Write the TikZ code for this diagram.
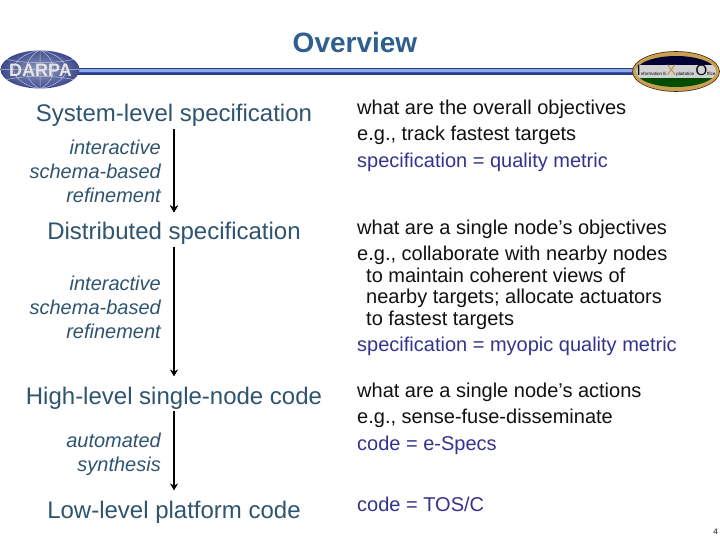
\documentclass[tikz,border=0pt]{standalone}
\usepackage{fontspec}
\setmainfont{Liberation Sans}
\usetikzlibrary{arrows.meta}
\definecolor{titlec}{HTML}{2F5F8F}
\definecolor{leftc}{HTML}{2F5470}
\definecolor{bodyc}{HTML}{111111}
\definecolor{metric}{HTML}{33338F}
\definecolor{barc}{HTML}{3A55B8}
\definecolor{barl}{HTML}{8FA8E8}
\definecolor{darpa}{HTML}{3C4A8C}
\definecolor{gold}{HTML}{C8A050}
\newcommand{\ixosmall}{\fontsize{4.5}{4.5}\selectfont}
\newcommand{\ixobig}{\fontsize{15}{15}\selectfont}
\tikzset{
  stage/.style={anchor=base,text=leftc,font=\fontsize{24}{24}\selectfont,inner sep=0pt},
  how/.style={anchor=north east,align=right,text=leftc,font=\fontsize{20}{24}\selectfont\itshape,inner sep=0pt},
  desc/.style={anchor=base west,text=bodyc,font=\fontsize{20}{24}\selectfont,inner sep=0pt},
  metr/.style={anchor=base west,text=metric,font=\fontsize{20}{24}\selectfont,inner sep=0pt},
  flow/.style={draw=black,line width=2pt,-{Stealth[length=7pt,width=8pt]}},
}
\begin{document}
\begin{tikzpicture}[x=1pt,y=-1pt]
\useasboundingbox (0,0) rectangle (720,540);
\fill[white] (0,0) rectangle (720,540);
\node[anchor=base,text=titlec,font=\fontsize{28}{28}\selectfont\bfseries,inner sep=0pt] (title) at (355,52.5) {Overview};
% header rule
\fill[barc!70!black] (70,68) rectangle (640,75);
\fill[barl] (70,69.5) rectangle (640,72);
\fill[barc] (70,72) rectangle (640,73.5);
% DARPA
\begin{scope}
\clip (40,69.5) ellipse [x radius=39.5,y radius=19];
\shade[inner color=darpa!55!white,outer color=darpa] (0,50) rectangle (80,89);
\draw[white!65!darpa,line width=.5pt] (0,69.5) -- (80,69.5) (40,50) -- (40,89)
  (40,50) .. controls (22,60) and (22,79) .. (40,89)
  (40,50) .. controls (58,60) and (58,79) .. (40,89)
  (40,50) .. controls (5,58) and (5,81) .. (40,89)
  (40,50) .. controls (75,58) and (75,81) .. (40,89)
  (5,59) .. controls (25,64) and (55,64) .. (75,59)
  (5,80) .. controls (25,75) and (55,75) .. (75,80);
\end{scope}
\node[text=white!80!gray,font=\fontsize{18}{18}\selectfont\bfseries,inner sep=0pt] (darpat) at (40.5,70) {DARPA};
% IXO
\fill[gold] (676,71.5) ellipse [x radius=43.5,y radius=20];
\draw[black!70!brown,line width=.6pt] (676,71.5) ellipse [x radius=43.5,y radius=20];
\begin{scope}
\clip (676,71.5) ellipse [x radius=40,y radius=15.5];
\fill[black!80!blue] (630,50) rectangle (720,65);
\fill[gray!35!white] (630,65) rectangle (720,78);
\fill[green!30!black] (630,78) rectangle (720,92);
\end{scope}
\node[text=black,inner sep=0pt] (ixot) at (676,71) {\ixobig I\ixosmall nformation E\ixobig\textcolor{gold!60!brown}{X}\ixosmall ploitation \ixobig O\ixosmall ffice};
% left
\node[stage] (s1) at (174,122) {System-level specification};
\node[how] (h1) at (161,140) {interactive\\schema-based\\refinement};
\node[stage] (s2) at (174,240) {Distributed specification};
\node[how] (h2) at (161,276) {interactive\\schema-based\\refinement};
\node[stage] (s3) at (174,404) {High-level single-node code};
\node[how] (h3) at (161,433) {automated\\synthesis};
\node[stage] (s4) at (174,518) {Low-level platform code};
\draw[flow,line width=1.2pt,shorten <=2pt,shorten >=10pt] (s1) -- (s2);
\coordinate (thick1) at (174,178);
\draw[flow,shorten >=10pt] (thick1) -- (s2);
\draw[flow,shorten <=2pt,shorten >=10pt] (s2) -- (s3);
\draw[flow,shorten <=2pt,shorten >=10pt] (s3) -- (s4);
% right
\node[desc] (r1) at (357,115) {what are the overall objectives};
\node[desc] (r2) at (357,141) {e.g., track fastest targets};
\node[metr] (r3) at (357,168) {specification = quality metric};
\node[desc] (r4) at (357,234) {what are a single node’s objectives};
\node[desc] (r5) at (357,260) {e.g., collaborate with nearby nodes};
\node[desc] (r6) at (366,282) {to maintain coherent views of};
\node[desc] (r7) at (366,303) {nearby targets; allocate actuators};
\node[desc] (r8) at (366,325) {to fastest targets};
\node[metr] (r9) at (357,351) {specification = myopic quality metric};
\node[desc] (r10) at (357,397) {what are a single node’s actions};
\node[desc] (r11) at (357,423) {e.g., sense-fuse-disseminate};
\node[metr] (r12) at (357,450) {code = e-Specs};
\node[metr] (r13) at (357,511) {code = TOS/C};
\node[anchor=base east,font=\fontsize{8}{8}\selectfont,inner sep=0pt,text=bodyc] (pg) at (718,534) {4};
\end{tikzpicture}
\end{document}
